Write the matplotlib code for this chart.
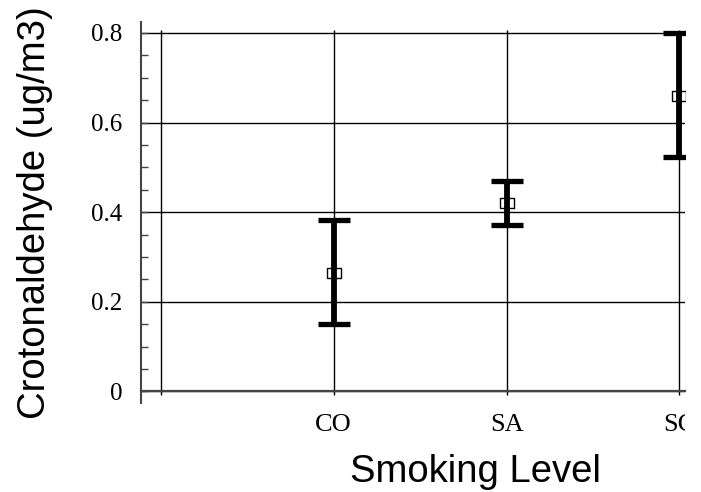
import matplotlib
matplotlib.use("Agg")
import matplotlib.pyplot as plt
from matplotlib.transforms import Bbox, TransformedBbox
from matplotlib.ticker import MultipleLocator
import numpy as np

# Data
categories = ["CO", "SA", "SC"]
means = [0.265, 0.421, 0.660]
upper = [0.382, 0.470, 0.799]
lower = [0.151, 0.372, 0.523]
y_ticks = [0, 0.2, 0.4, 0.6, 0.8]
y_tick_labels = ["0", "0.2", "0.4", "0.6", "0.8"]

W, H = 701, 492
fig = plt.figure(figsize=(W / 100, H / 100), dpi=100)
left_px, right_px, top_px, bottom_px = 141, 685, 21.7, 402.7
ax = fig.add_axes([left_px / W, (H - bottom_px) / H,
                   (right_px - left_px) / W, (bottom_px - top_px) / H])

x = np.arange(1, len(categories) + 1)
ax.set_xlim(-0.115, 3.032)
ax.set_ylim(-0.025, 0.825)

# grid
ax.vlines(np.concatenate([[0], x]), 0, 0.807, color="black", lw=1.0, zorder=1)
ax.yaxis.grid(True, color="black", lw=1.0, zorder=1)
ax.set_axisbelow(True)

# error bars
yerr = [np.array(means) - np.array(lower), np.array(upper) - np.array(means)]
ax.errorbar(x, means, yerr=yerr, fmt="none", ecolor="black",
            elinewidth=4.2, capsize=11.8, capthick=3.8, zorder=3)
rect = [(-1.3, -1), (1.3, -1), (1.3, 1), (-1.3, 1), (-1.3, -1)]
ax.plot(x, means, linestyle="none", marker=rect, markersize=9.6,
        mfc="none", mec="black", mew=1.0, zorder=4)

# spines
for s in ["top", "right"]:
    ax.spines[s].set_visible(False)
ax.spines["left"].set_color("#444444")
ax.spines["left"].set_linewidth(1.5)
ax.spines["bottom"].set_position(("data", 0))
ax.spines["bottom"].set_color("#444444")
ax.spines["bottom"].set_linewidth(1.6)

# ticks
ax.set_yticks(y_ticks)
ax.set_yticklabels(y_tick_labels, fontfamily="Liberation Serif", fontsize=18)
ax.yaxis.set_minor_locator(MultipleLocator(0.05))
ax.tick_params(axis="y", which="both", direction="in", length=5, width=1,
               color="#444444", pad=13.5)
ax.set_xticks(np.concatenate([[0], x]))
ax.set_xticklabels([""] + categories, fontfamily="Liberation Serif", fontsize=19)
ax.tick_params(axis="x", which="major", direction="out", length=3, width=1,
               color="black", pad=13)

clip_bb = TransformedBbox(Bbox.from_extents(0, 0, right_px / W, 1), fig.transFigure)
for lab in ax.get_xticklabels():
    lab.set_clip_box(clip_bb)
    lab.set_clip_on(True)

# axis labels
fig.text(475 / W, (H - 482) / H, "Smoking Level", fontfamily="Liberation Sans",
         fontsize=27.5, ha="center", va="baseline")
fig.text(45 / W, (H - 213) / H, "Crotonaldehyde (ug/m3)", fontfamily="Liberation Sans",
         fontsize=27.5, ha="center", va="baseline", rotation=90,
         rotation_mode="anchor")

fig.savefig("out.png", dpi=100)
